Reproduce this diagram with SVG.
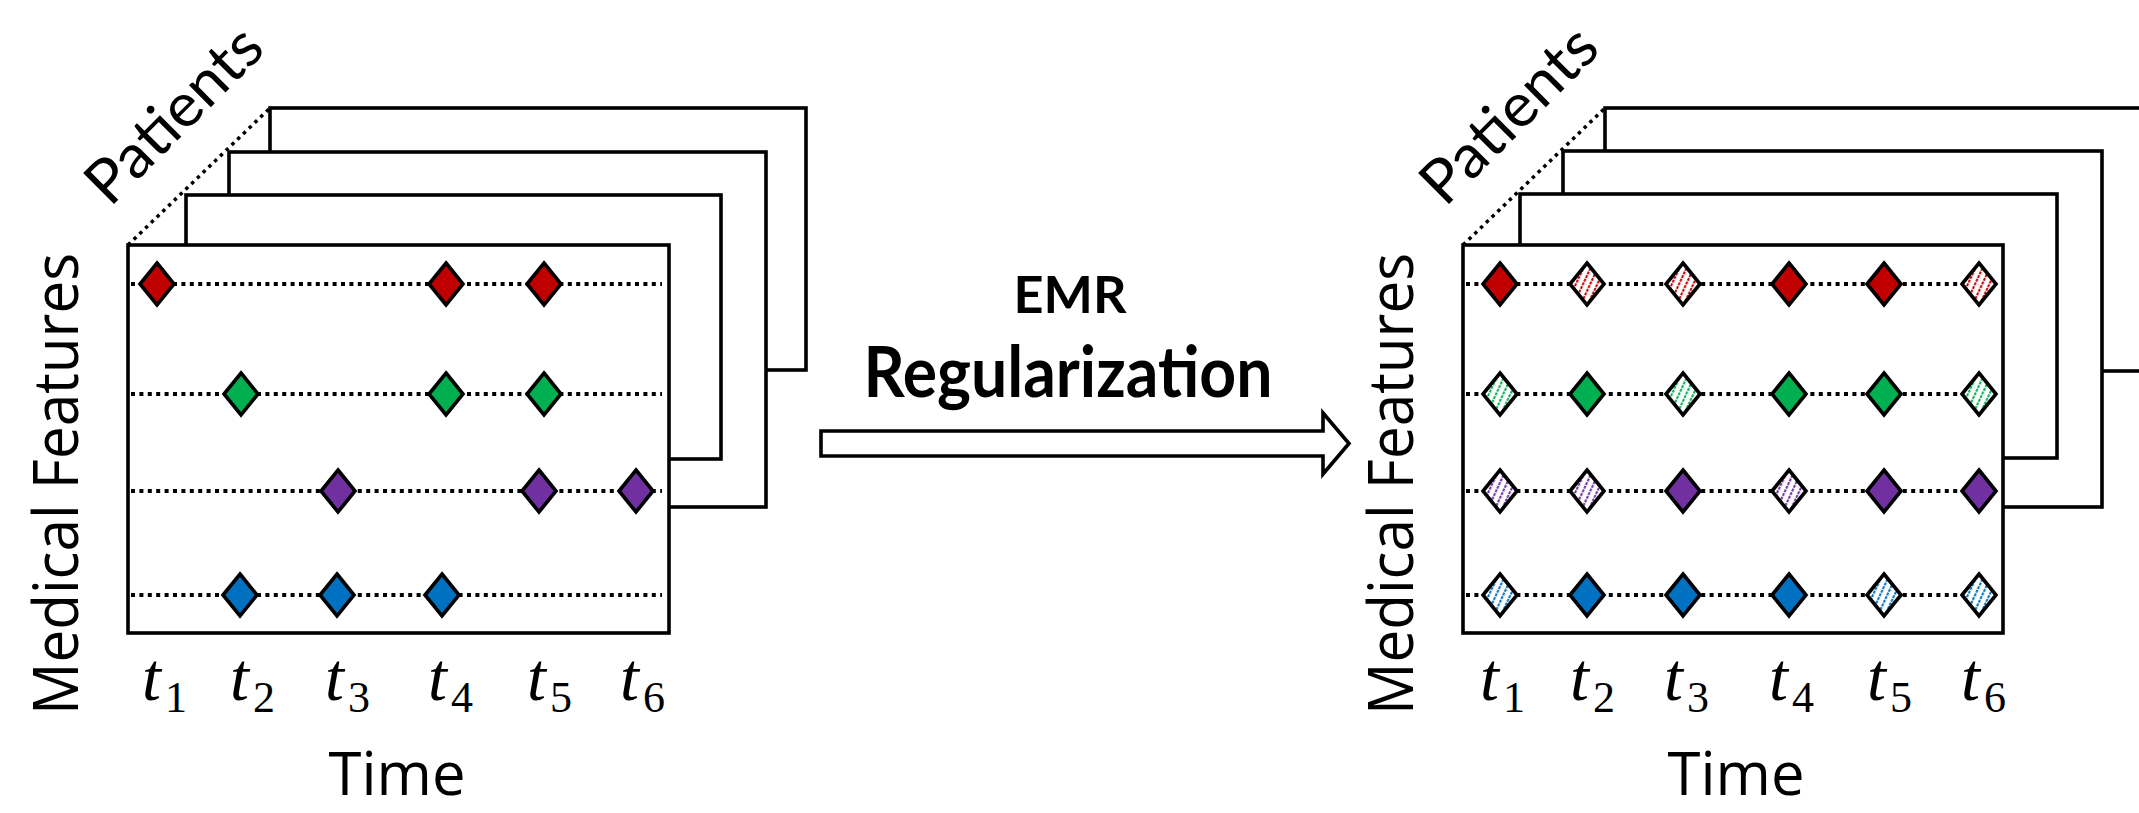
<svg xmlns="http://www.w3.org/2000/svg" width="2139" height="813" viewBox="0 0 2139 813">
<style>
  .frame{fill:#fff;stroke:#000;stroke-width:3.6}
  .diag{fill:none;stroke:#000;stroke-width:3.5;stroke-dasharray:3.5 4.5}
  .row{fill:none;stroke:#000;stroke-width:4;stroke-dasharray:4 4.4}
  .dm{stroke:#000;stroke-width:3.6;stroke-linejoin:miter}
  .red{fill:#C00000}.grn{fill:#00B050}.pur{fill:#7030A0}.blu{fill:#0070C0}
  .hred{fill:url(#hred)}.hgrn{fill:url(#hgrn)}.hpur{fill:url(#hpur)}.hblu{fill:url(#hblu)}
  .lbl{font-family:"Open Sans","Noto Sans","Liberation Sans",sans-serif;font-size:62px;fill:#000}
  .time{font-size:60px}
  .pat{font-family:Lato,"Open Sans","Liberation Sans",sans-serif;font-size:61px;fill:#000}
  .bold{font-family:Lato,"Open Sans","Liberation Sans",sans-serif;font-weight:bold;fill:#000}
  .tl{font-family:"Liberation Serif","DejaVu Serif",serif;fill:#000}
  .ti{font-style:italic;font-size:68px}
  .ts{font-size:44px}
  .arrow{fill:#fff;stroke:#000;stroke-width:3.6;stroke-linejoin:miter}
</style>
<defs>
  <path id="dia" d="M0,-21 L17,0 L0,21 L-17,0 Z"/>
  <pattern id="hred" patternUnits="userSpaceOnUse" width="6.5" height="12" patternTransform="rotate(25)">
    <rect width="6.5" height="12" fill="#fff"/><line x1="3" y1="0" x2="3" y2="12" stroke="#C00000" stroke-width="2" stroke-dasharray="3 1"/>
  </pattern>
  <pattern id="hgrn" patternUnits="userSpaceOnUse" width="6.5" height="12" patternTransform="rotate(25)">
    <rect width="6.5" height="12" fill="#fff"/><line x1="3" y1="0" x2="3" y2="12" stroke="#00B050" stroke-width="2" stroke-dasharray="3 1"/>
  </pattern>
  <pattern id="hpur" patternUnits="userSpaceOnUse" width="6.5" height="12" patternTransform="rotate(25)">
    <rect width="6.5" height="12" fill="#fff"/><line x1="3" y1="0" x2="3" y2="12" stroke="#7030A0" stroke-width="2" stroke-dasharray="3 1"/>
  </pattern>
  <pattern id="hblu" patternUnits="userSpaceOnUse" width="6.5" height="12" patternTransform="rotate(25)">
    <rect width="6.5" height="12" fill="#fff"/><line x1="3" y1="0" x2="3" y2="12" stroke="#0070C0" stroke-width="2" stroke-dasharray="3 1"/>
  </pattern>
</defs>
<rect width="2139" height="813" fill="#fff"/>

<g id="left-panel">
  <rect class="frame" x="270" y="108" width="536" height="262"/>
  <rect class="frame" x="229" y="152" width="537" height="355"/>
  <rect class="frame" x="186" y="195" width="535" height="264"/>
  <rect class="frame" x="128" y="245" width="541" height="388"/>
  <line class="diag" x1="128" y1="245" x2="270" y2="108"/>
  <line class="row" x1="131" y1="284" x2="662" y2="284"/>
  <line class="row" x1="131" y1="394" x2="662" y2="394"/>
  <line class="row" x1="131" y1="491" x2="662" y2="491"/>
  <line class="row" x1="131" y1="595" x2="662" y2="595"/>
  <use href="#dia" class="dm red" x="157" y="284"/>
  <use href="#dia" class="dm red" x="446" y="284"/>
  <use href="#dia" class="dm red" x="544" y="284"/>
  <use href="#dia" class="dm grn" x="241" y="394"/>
  <use href="#dia" class="dm grn" x="446" y="394"/>
  <use href="#dia" class="dm grn" x="544" y="394"/>
  <use href="#dia" class="dm pur" x="338" y="491"/>
  <use href="#dia" class="dm pur" x="539" y="491"/>
  <use href="#dia" class="dm pur" x="636" y="491"/>
  <use href="#dia" class="dm blu" x="240" y="595"/>
  <use href="#dia" class="dm blu" x="337" y="595"/>
  <use href="#dia" class="dm blu" x="442" y="595"/>
  <text class="tl" x="142" y="700"><tspan class="ti">t</tspan><tspan class="ts" dx="4" dy="12">1</tspan></text>
  <text class="tl" x="230" y="700"><tspan class="ti">t</tspan><tspan class="ts" dx="4" dy="12">2</tspan></text>
  <text class="tl" x="325" y="700"><tspan class="ti">t</tspan><tspan class="ts" dx="4" dy="12">3</tspan></text>
  <text class="tl" x="428" y="700"><tspan class="ti">t</tspan><tspan class="ts" dx="4" dy="12">4</tspan></text>
  <text class="tl" x="527" y="700"><tspan class="ti">t</tspan><tspan class="ts" dx="4" dy="12">5</tspan></text>
  <text class="tl" x="620" y="700"><tspan class="ti">t</tspan><tspan class="ts" dx="4" dy="12">6</tspan></text>
  <text class="lbl time" x="397" y="795" text-anchor="middle" textLength="137" lengthAdjust="spacingAndGlyphs">Time</text>
  <text class="lbl" transform="translate(78,715) rotate(-90)" textLength="462" lengthAdjust="spacingAndGlyphs">Medical Features</text>
  <text class="pat" transform="translate(110,208) rotate(-45)" textLength="222" lengthAdjust="spacingAndGlyphs">Patients</text>
</g>

<g id="right-panel">
  <rect class="frame" x="1605" y="108" width="560" height="263"/>
  <rect class="frame" x="1563" y="151" width="539" height="356"/>
  <rect class="frame" x="1520" y="194" width="537" height="264"/>
  <rect class="frame" x="1463" y="245" width="540" height="388"/>
  <line class="diag" x1="1463" y1="245" x2="1605" y2="108"/>
  <line class="row" x1="1466" y1="284" x2="1996" y2="284"/>
  <line class="row" x1="1466" y1="394" x2="1996" y2="394"/>
  <line class="row" x1="1466" y1="491" x2="1996" y2="491"/>
  <line class="row" x1="1466" y1="595" x2="1996" y2="595"/>
  <use href="#dia" class="dm red" x="1500" y="284"/>
  <use href="#dia" class="dm hred" x="1587" y="284"/>
  <use href="#dia" class="dm hred" x="1683" y="284"/>
  <use href="#dia" class="dm red" x="1789" y="284"/>
  <use href="#dia" class="dm red" x="1884" y="284"/>
  <use href="#dia" class="dm hred" x="1979" y="284"/>
  <use href="#dia" class="dm hgrn" x="1500" y="394"/>
  <use href="#dia" class="dm grn" x="1587" y="394"/>
  <use href="#dia" class="dm hgrn" x="1683" y="394"/>
  <use href="#dia" class="dm grn" x="1789" y="394"/>
  <use href="#dia" class="dm grn" x="1884" y="394"/>
  <use href="#dia" class="dm hgrn" x="1979" y="394"/>
  <use href="#dia" class="dm hpur" x="1500" y="491"/>
  <use href="#dia" class="dm hpur" x="1587" y="491"/>
  <use href="#dia" class="dm pur" x="1683" y="491"/>
  <use href="#dia" class="dm hpur" x="1789" y="491"/>
  <use href="#dia" class="dm pur" x="1884" y="491"/>
  <use href="#dia" class="dm pur" x="1979" y="491"/>
  <use href="#dia" class="dm hblu" x="1500" y="595"/>
  <use href="#dia" class="dm blu" x="1587" y="595"/>
  <use href="#dia" class="dm blu" x="1683" y="595"/>
  <use href="#dia" class="dm blu" x="1789" y="595"/>
  <use href="#dia" class="dm hblu" x="1884" y="595"/>
  <use href="#dia" class="dm hblu" x="1979" y="595"/>
  <text class="tl" x="1480" y="700"><tspan class="ti">t</tspan><tspan class="ts" dx="4" dy="12">1</tspan></text>
  <text class="tl" x="1570" y="700"><tspan class="ti">t</tspan><tspan class="ts" dx="4" dy="12">2</tspan></text>
  <text class="tl" x="1664" y="700"><tspan class="ti">t</tspan><tspan class="ts" dx="4" dy="12">3</tspan></text>
  <text class="tl" x="1769" y="700"><tspan class="ti">t</tspan><tspan class="ts" dx="4" dy="12">4</tspan></text>
  <text class="tl" x="1867" y="700"><tspan class="ti">t</tspan><tspan class="ts" dx="4" dy="12">5</tspan></text>
  <text class="tl" x="1961" y="700"><tspan class="ti">t</tspan><tspan class="ts" dx="4" dy="12">6</tspan></text>
  <text class="lbl time" x="1736" y="795" text-anchor="middle" textLength="137" lengthAdjust="spacingAndGlyphs">Time</text>
  <text class="lbl" transform="translate(1413,715) rotate(-90)" textLength="462" lengthAdjust="spacingAndGlyphs">Medical Features</text>
  <text class="pat" transform="translate(1445,208) rotate(-45)" textLength="222" lengthAdjust="spacingAndGlyphs">Patients</text>
</g>

<g id="emr-label">
  <text class="bold" x="1070" y="313" text-anchor="middle" font-size="51" textLength="113" lengthAdjust="spacingAndGlyphs">EMR</text>
  <text class="bold" x="1068" y="397" text-anchor="middle" font-size="70" textLength="409" lengthAdjust="spacingAndGlyphs">Regularization</text>
</g>

<g id="connectors">
  <path class="arrow" d="M821,431 L1323,431 L1323,413 L1349,443.5 L1323,474 L1323,456 L821,456 Z"/>
</g>
</svg>
